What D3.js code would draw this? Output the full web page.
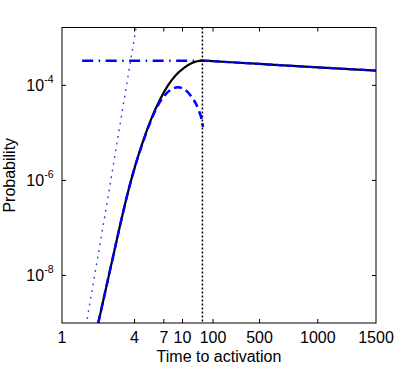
<!DOCTYPE html>
<html>
<head>
<meta charset="utf-8">
<script src="https://cdn.jsdelivr.net/npm/d3@7"></script>
<style>
body { margin: 0; background: #fff; }
text { font-family: "Liberation Sans", Arial, sans-serif; fill: #000; }
</style>
</head>
<body>
<div id="chart"></div>
<script>
"use strict";
// tick labels
var xTicks = [1, 4, 7, 10, 100, 500, 1000, 1500];
var yTickExps = [-4, -6, -8];
// full solution (black)
var exactTime = [1.9, 2.0, 2.5, 3.03, 3.53, 4.11, 4.79, 5.58, 6.51, 7.58, 8.83, 11.2, 20.5, 37.5, 45, 100, 500, 1000, 1500];
var exactProb = [5.6e-10, 1.0e-9, 1.27e-8, 1.12e-7, 5.73e-7, 2.31e-6, 7.69e-6, 2.15e-5, 5.05e-5, 9.95e-5, 1.65e-4, 2.33e-4, 2.94e-4, 3.30e-4, 3.33e-4, 3.23e-4, 2.82e-4, 2.39e-4, 2.05e-4];
// short-time approximation (blue dashed)
var approxTime = [1.9, 2.0, 2.5, 3.03, 3.53, 4.11, 4.79, 5.37, 6.03, 6.76, 7.58, 8.5, 9.18, 9.91, 14.0, 20.5, 27.7, 34.8, 42.0, 47.0];
var approxProb = [5.6e-10, 1.0e-9, 1.27e-8, 1.12e-7, 5.73e-7, 2.28e-6, 7.29e-6, 1.62e-5, 3.20e-5, 5.20e-5, 7.30e-5, 8.74e-5, 9.08e-5, 8.74e-5, 7.48e-5, 5.58e-5, 4.08e-5, 2.90e-5, 1.97e-5, 1.34e-5];
// long-time decay (blue dashed)
var decayTime = [45, 100, 500, 1000, 1500];
var decayProb = [3.33e-4, 3.23e-4, 2.82e-4, 2.39e-4, 2.05e-4];
// plateau (blue dash-dot)
var plateauTime = [1.47, 45];
var plateauProb = [3.28e-4, 3.28e-4];
// power law (blue dotted)
var powerTime = [1.55, 2.4, 4.2];
var powerProb = [6.4e-10, 4.2e-7, 2.2e-3];
var activationTime = 45;

function zip(ts, ps) {
    return ts.map(function (t, i) { return { t: t, p: ps[i] }; });
}

var margin = { top: 27.5, right: 39, bottom: 44, left: 62 };
var width = 415 - margin.left - margin.right;
var height = 367 - margin.top - margin.bottom;

// piecewise time axis: log 1-10, log 10-100 (compressed), linear 100-1500
var xLo = d3.scaleLog().domain([1, 10]).range([0, 120.5]);
var xMid = d3.scaleLog().domain([10, 100]).range([120.5, 151]);
var xHi = d3.scaleLinear().domain([100, 1500]).range([151, width]);
function x(t) {
    if (t <= 10) return xLo(t);
    if (t <= 100) return xMid(t);
    return xHi(t);
}
var y = d3.scaleLog().domain([1e-9, 1.65e-3]).range([height, 0]);

var svg = d3.select("#chart").append("svg")
    .attr("width", 415)
    .attr("height", 367);
var g = svg.append("g")
    .attr("transform", "translate(" + margin.left + "," + margin.top + ")");

g.append("clipPath").attr("id", "clip")
    .append("rect").attr("width", width).attr("height", height);

var line = d3.line()
    .x(function (d) { return x(d.t); })
    .y(function (d) { return y(d.p); });
var plot = g.append("g").attr("clip-path", "url(#clip)");

plot.append("path")
    .datum(zip(powerTime, powerProb))
    .attr("d", line)
    .attr("fill", "none")
    .attr("stroke", "#3535ff")
    .attr("stroke-width", 1.4)
    .attr("stroke-dasharray", "1.8,5");

plot.append("path")
    .datum(zip(plateauTime, plateauProb))
    .attr("d", line)
    .attr("fill", "none")
    .attr("stroke", "#0000ff")
    .attr("stroke-width", 2.5)
    .attr("stroke-dasharray", "11,5.5,1.5,5.5");

plot.append("path")
    .datum(zip(exactTime, exactProb))
    .attr("d", line.curve(d3.curveMonotoneX))
    .attr("fill", "none")
    .attr("stroke", "#000")
    .attr("stroke-width", 2.2);

plot.append("path")
    .datum(zip(approxTime, approxProb))
    .attr("d", line.curve(d3.curveMonotoneX))
    .attr("fill", "none")
    .attr("stroke", "#0000ff")
    .attr("stroke-width", 2.5)
    .attr("stroke-dasharray", "8,4.5");

plot.append("path")
    .datum(zip(decayTime, decayProb))
    .attr("d", line.curve(d3.curveMonotoneX))
    .attr("fill", "none")
    .attr("stroke", "#0000ff")
    .attr("stroke-width", 2.2)
    .attr("stroke-dasharray", "7,3.5");

plot.append("line")
    .attr("x1", x(activationTime)).attr("x2", x(activationTime))
    .attr("y1", 0).attr("y2", height)
    .attr("stroke", "#000")
    .attr("stroke-width", 1.5)
    .attr("stroke-dasharray", "2,2");

// box and inward ticks
g.append("rect")
    .attr("width", width).attr("height", height)
    .attr("fill", "none")
    .attr("stroke", "#000")
    .attr("stroke-width", 1);

var tickLen = 4;
var inner = xTicks.slice(1, -1);
g.selectAll(".xtb").data(inner).enter().append("line")
    .attr("x1", x).attr("x2", x)
    .attr("y1", height).attr("y2", height - tickLen)
    .attr("stroke", "#000");
g.selectAll(".xtt").data(inner).enter().append("line")
    .attr("x1", x).attr("x2", x)
    .attr("y1", 0).attr("y2", tickLen)
    .attr("stroke", "#000");
g.selectAll(".xl").data(xTicks).enter().append("text")
    .attr("x", x)
    .attr("y", height + 19.5)
    .attr("text-anchor", "middle")
    .style("font-size", "16px")
    .text(function (d) { return d; });

g.selectAll(".ytl").data(yTickExps).enter().append("line")
    .attr("x1", 0).attr("x2", tickLen)
    .attr("y1", function (d) { return y(Math.pow(10, d)); })
    .attr("y2", function (d) { return y(Math.pow(10, d)); })
    .attr("stroke", "#000");
g.selectAll(".ytr").data(yTickExps).enter().append("line")
    .attr("x1", width).attr("x2", width - tickLen)
    .attr("y1", function (d) { return y(Math.pow(10, d)); })
    .attr("y2", function (d) { return y(Math.pow(10, d)); })
    .attr("stroke", "#000");
var yl = g.selectAll(".yl").data(yTickExps).enter().append("text")
    .attr("x", -8.5)
    .attr("y", function (d) { return y(Math.pow(10, d)) + 5.6; })
    .attr("text-anchor", "end")
    .style("font-size", "16px");
yl.append("tspan").text("10");
yl.append("tspan")
    .attr("dy", -8)
    .style("font-size", "10.5px")
    .text(function (d) { return "-" + Math.abs(d); });

g.append("text")
    .attr("x", width / 2)
    .attr("y", height + 39)
    .attr("text-anchor", "middle")
    .style("font-size", "16px")
    .text("Time to activation");

g.append("text")
    .attr("transform", "translate(" + (15 - margin.left) + "," + (height / 2) + ") rotate(-90)")
    .attr("text-anchor", "middle")
    .style("font-size", "16px")
    .text("Probability");
</script>
</body>
</html>
